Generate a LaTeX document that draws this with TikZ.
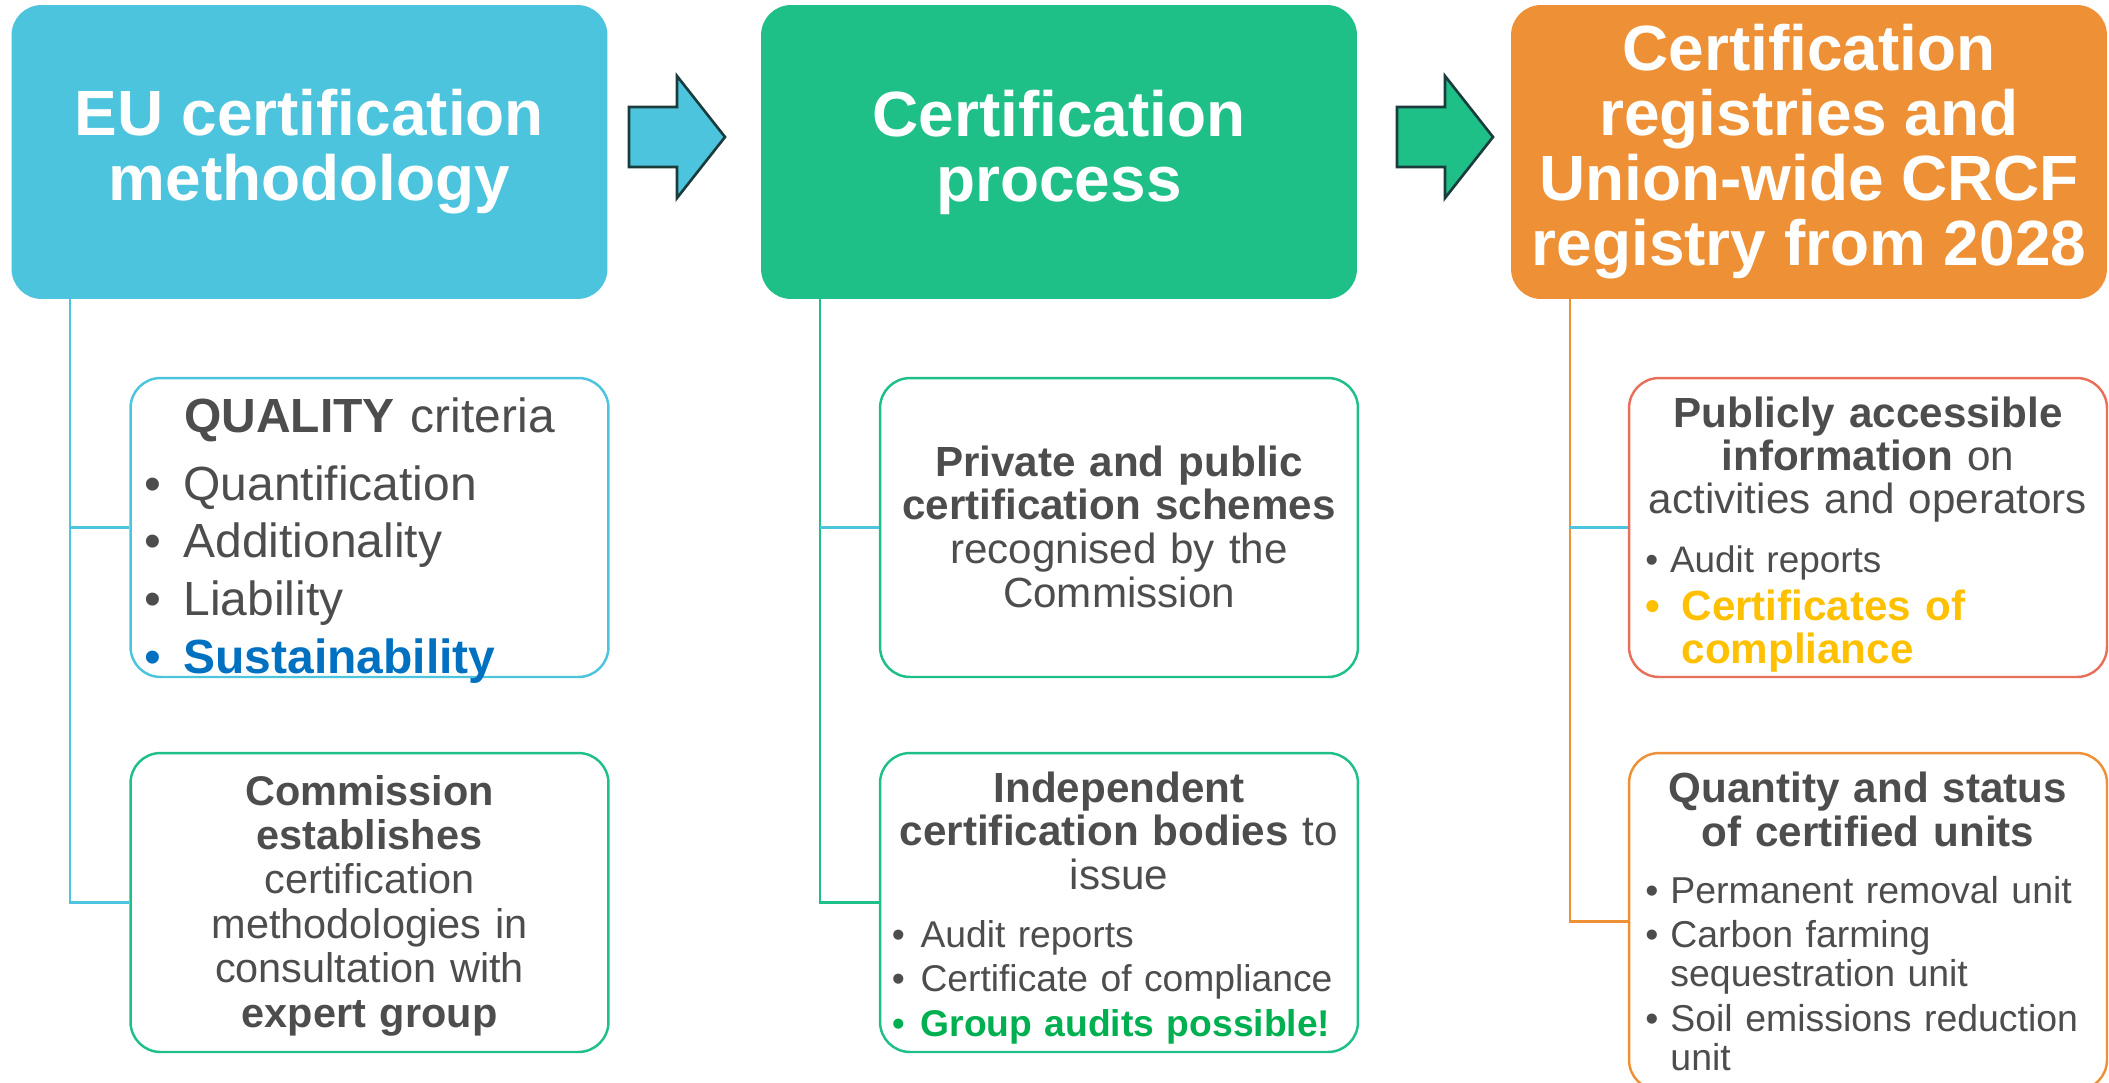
\documentclass[tikz,border=0pt]{standalone}
\usepackage{fontspec}
\setmainfont{Liberation Sans}
\usepackage{tikz}
\usetikzlibrary{positioning}

\definecolor{eucyan}{HTML}{4CC4DE}
\definecolor{eugreen}{HTML}{1FBF88}
\definecolor{euorange}{HTML}{EE9035}
\definecolor{eured}{HTML}{E8705A}
\definecolor{txtgrey}{HTML}{4D4D4D}
\definecolor{arrowline}{HTML}{1A3C3C}
\definecolor{sustblue}{HTML}{0070C0}
\definecolor{certyellow}{HTML}{FFC000}
\definecolor{groupgreen}{HTML}{00B050}

\newcommand{\bul}[1][0.75em]{\makebox[#1][l]{\textbullet}}

\tikzset{
  headbox/.style={rounded corners=0.6cm, minimum width=11.92cm, minimum height=5.88cm, inner sep=0pt,
    text=white, align=center, font=\fontsize{36.4}{37}\selectfont\bfseries},
  subbox/.style={draw, rounded corners=0.6cm, line width=1.4pt, minimum width=9.56cm, minimum height=5.98cm, inner sep=0pt},
  heading/.style={anchor=base, inner sep=0pt, text width=9.2cm, align=center, text=txtgrey,
    font=\fontsize{24}{25}\selectfont},
  bullets/.style={anchor=base west, inner sep=0pt, text width=9cm, align=left, text=txtgrey,
    font=\fontsize{21}{25.6}\selectfont},
  branch/.style={line width=1.2pt},
  flow/.style={draw=arrowline, line width=1.5pt, line join=miter}
}

\begin{document}
\begin{tikzpicture}[x=0.02cm, y=-0.02cm]
  \useasboundingbox (0,0) rectangle (2109,1082);

  % top row
  \node[headbox, fill=eucyan] (method) at (309.5,152) {EU certification\\methodology};
  \node[headbox, fill=eugreen] (process) at (1059,152) {Certification\\process};
  \node[headbox, fill=euorange] (registry) at (1809,152) {Certification\\registries and\\Union-wide CRCF\\registry from 2028};

  \foreach \ax/\acol in {629/eucyan, 1397/eugreen}
    \draw[flow, fill=\acol] (\ax,107) -- ++(48,0) -- ++(0,-31) -- ++(48,61) -- ++(-48,61) -- ++(0,-31) -- ++(-48,0) -- cycle;

  % boxes below
  \node[subbox, draw=eucyan] (quality) at (369.5,527.5) {};
  \node[subbox, draw=eugreen] (expert) at (369.5,902.5) {};
  \node[subbox, draw=eugreen] (schemes) at (1119,527.5) {};
  \node[subbox, draw=eugreen] (bodies) at (1119,902.5) {};
  \node[subbox, draw=eured] (public) at (1868,527.5) {};
  \node[subbox, draw=euorange, minimum height=6.74cm] (units) at (1868,921.5) {};

  \coordinate[right=1.18cm of method.south west] (trunk1);
  \coordinate[right=1.18cm of process.south west] (trunk2);
  \coordinate[right=1.18cm of registry.south west] (trunk3);

  \draw[branch, eucyan] (trunk1) |- (quality.west);
  \draw[branch, eucyan] (trunk1) |- (expert.west);
  \draw[branch, eugreen] (trunk2) |- (bodies.west);
  \draw[branch, eucyan] (trunk2 |- schemes.west) -- (schemes.west);
  \draw[branch, euorange] (trunk3) |- (units.west);
  \draw[branch, eucyan] (trunk3 |- public.west) -- (public.west);

  % texts
  \node[heading, font=\fontsize{27.3}{33}\selectfont] (qualhead) at (369.5,432) {\textbf{QUALITY} criteria};
  \node[bullets, font=\fontsize{27.3}{33}\selectfont] (quallist) at (144,500)
    {\bul[0.82em]Quantification\\\bul[0.82em]Additionality\\\bul[0.82em]Liability\\
     {\color{sustblue}\bul[0.82em]\textbf{Sustainability}}};

  \node[heading, font=\fontsize{23.6}{25.3}\selectfont] (experttext) at (369.5,805)
    {\textbf{Commission}\\\textbf{establishes}\\certification\\methodologies in\\consultation with\\\textbf{expert group}};

  \node[heading] (schemestext) at (1119,476)
    {\textbf{Private and public}\\\textbf{certification schemes}\\recognised by the\\Commission};

  \node[heading] (bodieshead) at (1119,802)
    {\textbf{Independent}\\\textbf{certification bodies} to\\issue};
  \node[bullets, font=\fontsize{21.2}{25.6}\selectfont] (bodieslist) at (891.5,947)
    {\bul[0.77em]Audit reports\\\bul[0.77em]Certificate of compliance\\
     {\color{groupgreen}\bul[0.77em]\textbf{Group audits possible!}}};

  \node[heading, font=\fontsize{24}{24.6}\selectfont] (publichead) at (1868,427)
    {\textbf{Publicly accessible}\\\textbf{information} on\\activities and operators};
  \node[bullets] (publiclist) at (1645,572) {\bul[0.67em]Audit reports};
  \node[bullets, text=certyellow, font=\fontsize{24}{24.5}\selectfont\bfseries] (compliance) at (1645,620)
    {\bul[0.86em]Certificates of\\\hspace*{0.86em}compliance};

  \node[heading, font=\fontsize{24}{25.5}\selectfont\bfseries] (unitshead) at (1868,802)
    {Quantity and status\\of certified units};
  \node[bullets, font=\fontsize{21.3}{22.3}\selectfont] (unitslist) at (1645,903)
    {\bul[0.67em]Permanent removal unit\\[3pt]\bul[0.67em]Carbon farming\\\hspace*{0.67em}sequestration unit\\[3pt]
     \bul[0.67em]Soil emissions reduction\\\hspace*{0.67em}unit};
\end{tikzpicture}
\end{document}
